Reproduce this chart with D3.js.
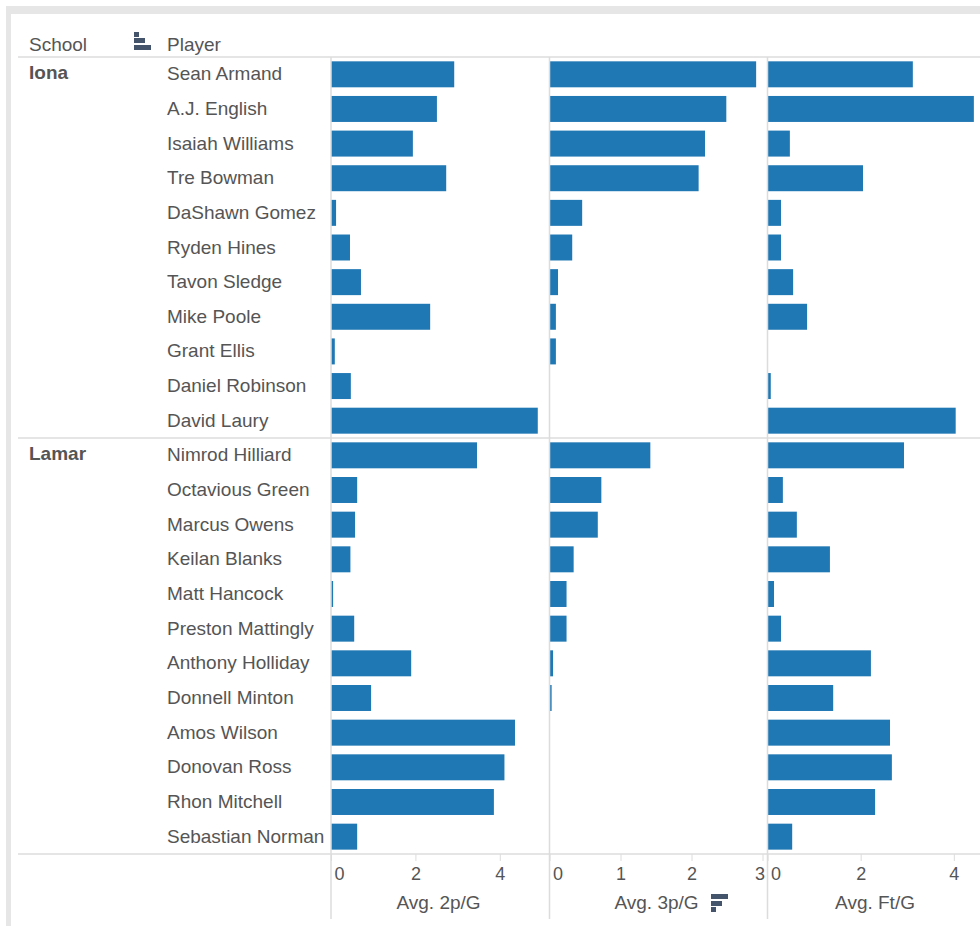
<!DOCTYPE html>
<html><head><meta charset="utf-8">
<script src="https://cdnjs.cloudflare.com/ajax/libs/d3/7.8.5/d3.min.js"></script>
<style>
html,body{margin:0;padding:0;background:#fff}
svg{display:block}
text{font-family:"Liberation Sans",Arial,sans-serif;fill:#555;font-size:19px}
</style></head><body>
<svg id="c" width="980" height="926"></svg>
<script>
const schools = ["Iona","Lamar"];
const ionaPlayers = ["Sean Armand","A.J. English","Isaiah Williams","Tre Bowman","DaShawn Gomez","Ryden Hines","Tavon Sledge","Mike Poole","Grant Ellis","Daniel Robinson","David Laury"];
const lamarPlayers = ["Nimrod Hilliard","Octavious Green","Marcus Owens","Keilan Blanks","Matt Hancock","Preston Mattingly","Anthony Holliday","Donnell Minton","Amos Wilson","Donovan Ross","Rhon Mitchell","Sebastian Norman"];
const twoP = [2.92,2.51,1.94,2.73,0.12,0.45,0.71,2.35,0.09,0.47,4.9, 3.46,0.62,0.57,0.46,0.05,0.55,1.9,0.95,4.36,4.11,3.86,0.62];
const threeP = [2.91,2.49,2.19,2.1,0.46,0.32,0.12,0.09,0.09,0,0, 1.42,0.73,0.68,0.34,0.24,0.24,0.05,0.03,0,0,0,0];
const ftG = [3.12,4.43,0.48,2.05,0.29,0.29,0.55,0.85,0,0.07,4.04, 2.93,0.33,0.63,1.34,0.14,0.29,2.22,1.41,2.63,2.67,2.31,0.53];
const twoTicks = [0,2,4], threeTicks = [0,1,2,3], ftTicks = [0,2,4];
const measures = ["Avg. 2p/G","Avg. 3p/G","Avg. Ft/G"];

const svg = d3.select("#c");
const BLUE = "#1f77b4", LINE = "#dcdcdc";
// frame
svg.append("rect").attr("x",6).attr("y",6).attr("width",974).attr("height",8).attr("fill","#e6e6e6");
svg.append("rect").attr("x",6).attr("y",6).attr("width",5).attr("height",920).attr("fill","#e6e6e6");

const players = ionaPlayers.concat(lamarPlayers);
const yI = d3.scaleBand().domain(ionaPlayers).range([57,438]).paddingInner(0.25).paddingOuter(0.125);
const yL = d3.scaleBand().domain(lamarPlayers).range([438,854]).paddingInner(0.25).paddingOuter(0.125);
const y = p => ionaPlayers.includes(p) ? yI(p) : yL(p);
const bh = yI.bandwidth();

const panels = [
 {vals:twoP, x:d3.scaleLinear().domain([0,5.166]).range([331,549]), ticks:twoTicks, title:measures[0], tx:438.5},
 {vals:threeP, x:d3.scaleLinear().domain([0,3.07]).range([549.5,767.5]), ticks:threeTicks, title:measures[1], tx:656.5},
 {vals:ftG, x:d3.scaleLinear().domain([0,4.68]).range([767.5,985.5]), ticks:ftTicks, title:measures[2], tx:875}
];

panels.forEach(p=>{
  svg.append("g").selectAll("rect").data(players).join("rect")
    .attr("x",p.x(0)).attr("y",d=>y(d))
    .attr("width",(d,i)=>p.x(p.vals[i])-p.x(0))
    .attr("height",bh).attr("fill",BLUE);
  const ax = svg.append("g").attr("transform","translate(0,854)")
    .call(d3.axisBottom(p.x).tickValues(p.ticks).tickSize(7).tickPadding(6).tickFormat(d3.format("d")));
  ax.select(".domain").remove();
  ax.selectAll("line").attr("stroke",LINE);
  ax.selectAll("text").attr("fill","#666").style("font-size","18px").style("font-family",'"Liberation Sans",Arial,sans-serif')
    .attr("dx",d=>d===0?8:(d===3?-3:0));
  svg.append("text").attr("x",p.tx).attr("y",909).attr("text-anchor","middle").attr("fill","#666").text(p.title);
});

// grid lines
[57,438,854].forEach(v=>svg.append("line").attr("x1",18).attr("x2",980).attr("y1",v).attr("y2",v).attr("stroke",LINE).attr("stroke-width",1.5));
panels.forEach(p=>svg.append("line").attr("x1",p.x(0)).attr("x2",p.x(0)).attr("y1",57).attr("y2",919).attr("stroke",LINE).attr("stroke-width",1.5));

// row labels
svg.append("g").selectAll("text").data(players).join("text")
  .attr("x",167).attr("y",d=>y(d)+bh/2+6).text(d=>d);
svg.append("g").selectAll("text").data(schools).join("text")
  .attr("x",29).attr("y",(d,i)=>i?460:79).style("font-weight","bold").text(d=>d);
// headers
svg.append("text").attr("x",29).attr("y",51).text("School");
svg.append("text").attr("x",167).attr("y",51).text("Player");
// sort icons
const ICON="#44546a";
[[134,32,5,5],[134,38,11,5],[134,45,17,5]].forEach(r=>svg.append("rect").attr("x",r[0]).attr("y",r[1]).attr("width",r[2]).attr("height",r[3]).attr("fill",ICON));
[[711,894,17,5],[711,901,11,5],[711,907,5,5]].forEach(r=>svg.append("rect").attr("x",r[0]).attr("y",r[1]).attr("width",r[2]).attr("height",r[3]).attr("fill",ICON));
</script></body></html>
